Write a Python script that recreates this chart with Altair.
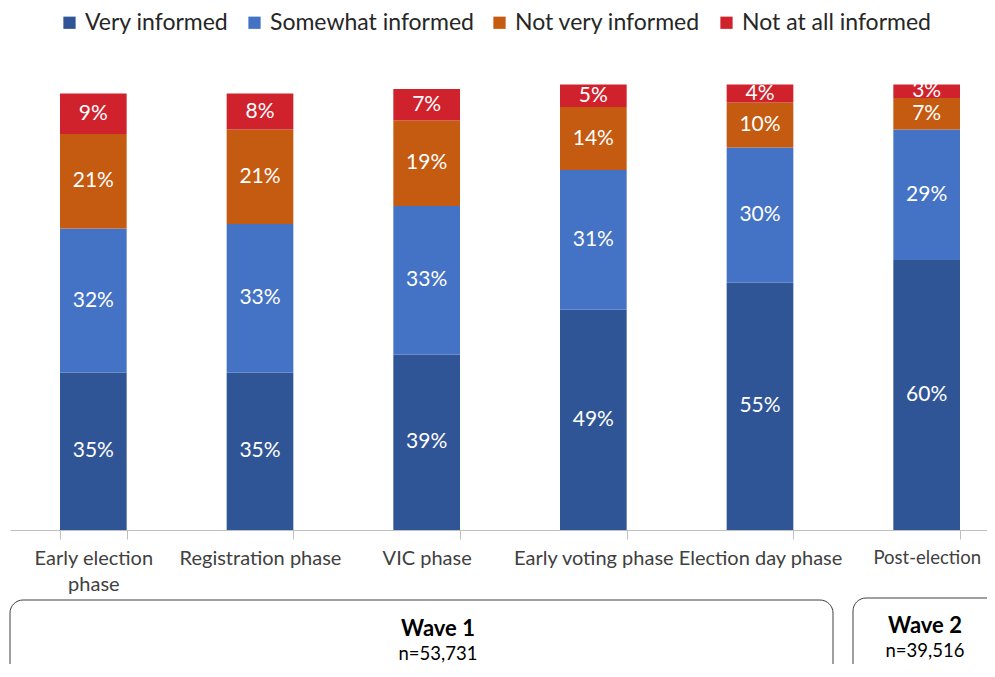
import altair as alt
import pandas as pd

categories = ["Early election phase", "Registration phase", "VIC phase",
              "Early voting phase", "Election day phase", "Post-election"]
series = ["Very informed", "Somewhat informed", "Not very informed", "Not at all informed"]
very_informed = [35, 35, 39, 49, 55, 60]
somewhat_informed = [32, 33, 33, 31, 30, 29]
not_very_informed = [21, 21, 19, 14, 10, 7]
not_at_all_informed = [9, 8, 7, 5, 4, 3]
colors = ["#2F5597", "#4472C4", "#C55A11", "#D0222D"]

wave_names = ["Wave 1", "Wave 2"]
wave_n = ["n=53,731", "n=39,516"]

FONT = "Lato"

values = [very_informed, somewhat_informed, not_very_informed, not_at_all_informed]
rows = []
for i, c in enumerate(categories):
    for j, s in enumerate(series):
        rows.append({"phase": c, "series": s, "order": j, "value": values[j][i]})
df = pd.DataFrame(rows)

xscale = alt.Scale(domain=categories, range=[2, 1002], paddingInner=0.6, paddingOuter=0.3)
yscale = alt.Scale(domain=[0, 100])

x_axis = alt.Axis(
    title=None, labelAngle=0, tickBand="extent", tickSize=9, tickColor="#BFBFBF",
    domainColor="#BFBFBF", labelFont=FONT,
    labelFontSize={"condition": {"test": "datum.label == 'Post-election'", "value": 18.5}, "value": 20},
    labelColor="#404040",
    labelPadding=9, labelLimit=300, labelLineHeight=26,
    labelExpr="datum.label == 'Early election phase' ? ['Early election', 'phase'] : datum.label",
)

base = alt.Chart(df)

bars = base.mark_bar().encode(
    x=alt.X("phase:N", sort=categories, scale=xscale, axis=x_axis),
    y=alt.Y("value:Q", stack="zero", scale=yscale, axis=None),
    color=alt.Color(
        "series:N", sort=series,
        scale=alt.Scale(domain=series, range=colors),
        legend=alt.Legend(
            title=None, orient="none", legendX=50, legendY=-69, direction="horizontal",
            symbolType="square", symbolSize=150, symbolStrokeWidth=0,
            labelFont=FONT, labelFontSize=23, labelColor="#262626",
            columnPadding=14, labelOffset=4, labelLimit=400,
        ),
    ),
    order=alt.Order("order:Q"),
)

labels = base.transform_stack(
    stack="value", groupby=["phase"], as_=["y0", "y1"], sort=[alt.SortField("order")]
).transform_calculate(
    mid="(datum.y0 + datum.y1) / 2", label="datum.value + '%'"
).mark_text(color="white", font=FONT, fontSize=21).encode(
    x=alt.X("phase:N", sort=categories, scale=xscale),
    y=alt.Y("mid:Q", scale=yscale),
    text="label:N",
)

w1 = pd.DataFrame({"name": [wave_names[0]], "n": [wave_n[0]]})
w2 = pd.DataFrame({"name": [wave_names[1]], "n": [wave_n[1]]})

box1 = alt.Chart(w1).mark_rect(
    fillOpacity=0, stroke="#404040", strokeWidth=1, cornerRadius=13
).encode(x=alt.value(2), x2=alt.value(825), y=alt.value(520), y2=alt.value(630))
box2 = alt.Chart(w2).mark_rect(
    fillOpacity=0, stroke="#404040", strokeWidth=1, cornerRadius=13
).encode(x=alt.value(845), x2=alt.value(1000), y=alt.value(518), y2=alt.value(630))

t1a = alt.Chart(w1).mark_text(font=FONT, fontSize=22, fontWeight="bold", color="#000000").encode(
    x=alt.value(430), y=alt.value(549), text="name:N")
t1b = alt.Chart(w1).mark_text(font=FONT, fontSize=18.5, color="#000000").encode(
    x=alt.value(430), y=alt.value(574), text="n:N")
t2a = alt.Chart(w2).mark_text(font=FONT, fontSize=22, fontWeight="bold", color="#000000").encode(
    x=alt.value(917), y=alt.value(546), text="name:N")
t2b = alt.Chart(w2).mark_text(font=FONT, fontSize=18.5, color="#000000").encode(
    x=alt.value(917), y=alt.value(571), text="n:N")

chart = alt.layer(bars, labels, box1, box2, t1a, t1b, t2a, t2b).properties(
    width=979, height=450,
    autosize=alt.AutoSizeParams(type="none"),
    padding={"left": 0, "top": 72, "right": 0, "bottom": 134},
).configure_view(stroke=None)

chart.save("out.html", embed_options={"renderer": "svg", "actions": False})
